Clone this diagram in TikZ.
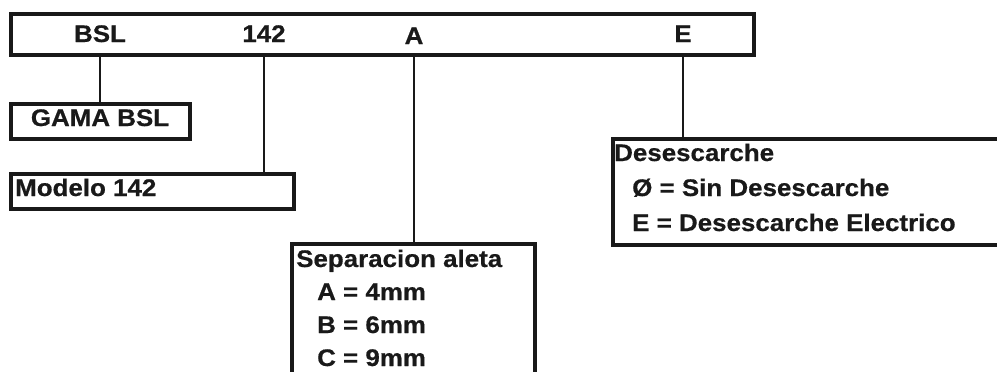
\documentclass[tikz,border=0pt]{standalone}
\usepackage{fontspec}
\setmainfont{Liberation Sans}[FakeStretch=1.08, BoldFeatures={FakeBold=0.6}]
\begin{document}
\begin{tikzpicture}[x=1pt,y=-1pt,
  box/.style={draw=black!90, line width=4pt, rectangle, inner sep=0pt, anchor=north west},
  lbl/.style={font=\bfseries\fontsize{24}{28}\selectfont, text=black!90, inner sep=0pt, anchor=base},
  txt/.style={lbl, anchor=base west},
  link/.style={draw=black!90, line width=2.6pt}]
\useasboundingbox (0,0) rectangle (997,372);
\clip (0,0) rectangle (997,372);

% code bar
\node[box, minimum width=743pt, minimum height=41pt] (bar) at (9,12) {};
\node[lbl] (bsl) at (100,42) {BSL};
\node[lbl] (mod) at (264,42) {142};
\node[lbl] (fin) at (414,44) {A};
\node[lbl] (def) at (683,42) {E};

% GAMA BSL
\node[box, minimum width=179pt, minimum height=35pt] (gama) at (9,102) {};
\node[lbl] (gamat) at (100,126) {GAMA BSL};

% Modelo
\node[box, minimum width=283pt, minimum height=35pt] (modelo) at (9,172) {};
\node[txt] (modelot) at (15,196) {Modelo 142};

% Separacion aleta
\node[box, minimum width=243pt, minimum height=170pt] (sep) at (290,242) {};
\node[txt] (sep0) at (296,267) {Separacion aleta};
\node[txt] (sep1) at (317,300) {A = 4mm};
\node[txt] (sep2) at (317,333) {B = 6mm};
\node[txt] (sep3) at (317,366) {C = 9mm};

% Desescarche
\node[box, minimum width=420pt, minimum height=106pt] (des) at (611,137) {};
\node[txt] (des0) at (614,161) {Desescarche};
\node[txt] (des1) at (632,196) {Ø = Sin Desescarche};
\node[txt] (des2) at (632,231) {E = Desescarche Electrico};

% connectors
\draw[link] (bar.south -| bsl) -- (gama.north -| bsl);
\draw[link] (bar.south -| mod) -- (modelo.north -| mod);
\draw[link] (bar.south -| fin) -- (sep.north -| fin);
\draw[link] (bar.south -| def) -- (des.north -| def);
\end{tikzpicture}
\end{document}
